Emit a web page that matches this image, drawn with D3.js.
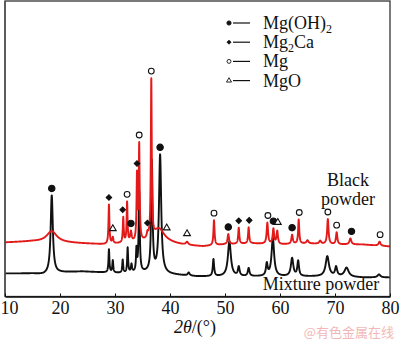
<!DOCTYPE html>
<html><head><meta charset="utf-8">
<script src="https://cdn.jsdelivr.net/npm/d3@7"></script>
<style>body{margin:0;background:#fff}</style>
</head><body>
<svg id="chart" width="400" height="340"></svg>
<script>
// 2θ axis ticks
const ticks2Theta = [10, 20, 30, 40, 50, 60, 70, 80];

// Mixture powder: background [2θ, intensity] and peaks [2θ, height, half width]
const mixtureBackground = [[10,23],[15,23],[17,22],[20,24],[24,25],[28,24],[32,23],[36,24],[40,22],[45,20],[50,20],[60,20],[70,20],[75,19],[80,19]];
const mixturePeaks = [
  [18.5,78,0.24],[28.9,23,0.1],[29.6,12,0.1],[31.4,13,0.1],[32.3,25,0.1],[33.0,8,0.12],
  [33.9,22,0.1],[34.4,80,0.12],[36.7,110,0.15],[38.2,118,0.24],[43.4,3,0.2],
  [47.9,17,0.14],[50.8,35,0.32],[52.5,9,0.18],[54.3,8,0.18],[57.6,12,0.18],[58.7,38,0.28],
  [62.2,18,0.26],[63.3,15,0.18],[68.6,20,0.36],[70.2,9,0.22],[72.1,9,0.45],[78.0,3,0.3]
];

// Black powder: background and peaks
const blackBackground = [[10,54],[15,55],[20,54],[24,53],[28,52],[32,53],[36,54],[40,53],[43,51],[46,50],[50,52],[55,53],[60,52],[65,53],[70,52],[75,52],[80,50]];
const blackPeaks = [
  [18.5,11,1.1],[28.9,39,0.1],[29.6,6,0.12],[31.5,25,0.1],[32.2,40,0.1],[32.9,10,0.15],
  [34.0,65,0.1],[34.4,95,0.1],[35.9,5,0.15],[36.6,158,0.1],[38.0,14,1.2],[43.1,3,0.25],
  [48.0,25,0.12],[50.6,10,0.15],[52.5,16,0.12],[54.3,16,0.12],[57.7,21,0.15],[58.8,15,0.15],
  [59.5,13,0.15],[62.2,9,0.15],[63.4,24,0.12],[65.0,3,0.2],[67.3,3,0.2],[68.7,25,0.15],
  [70.3,12,0.15],[72.8,6,0.2],[78.1,4,0.2]
];

// Phase reflections (2θ)
const phaseNames = ["Mg(OH)2", "Mg2Ca", "Mg", "MgO"];
const mgOH2Peaks = [18.5, 32.9, 38.2, 50.6, 58.8, 62.2, 73.0];
const mg2CaPeaks = [28.9, 31.4, 34.0, 35.9, 52.5, 54.4];
const mgPeaks = [32.2, 34.4, 36.6, 48.0, 57.8, 63.5, 68.7, 70.3, 78.2];
const mgOPeaks = [29.6, 39.4, 43.1, 59.6];

const svg = d3.select("#chart");
const W = 400, H = 340;
const plot = {left: 5, right: 390, top: 1, bottom: 296.5};
const serif = "'Liberation Serif','Times New Roman',serif";
const red = "#e31a1a", ink = "#111";

const x = d3.scaleLinear().domain([10, 80]).range([plot.left, plot.right]);
const y = d3.scaleLinear().domain([0, 295.5]).range([plot.bottom, plot.top]);

function pattern(bg, peaks) {
  const base = d3.scaleLinear().domain(bg.map(d => d[0])).range(bg.map(d => d[1]));
  const pts = [];
  for (let i = 0; i <= 7000; i++) {
    const t = 10 + i * 0.01;
    let v = base(t);
    for (const [c, h, w] of peaks) {
      const u = (t - c) / w;
      v += h / (1 + u * u);
    }
    pts.push([t, v]);
  }
  return pts;
}

const mixture = pattern(mixtureBackground, mixturePeaks);
const black = pattern(blackBackground, blackPeaks);

svg.append("rect").attr("width", W).attr("height", H).attr("fill", "#fff");

svg.append("clipPath").attr("id", "clip").append("rect")
  .attr("x", plot.left).attr("y", plot.top)
  .attr("width", plot.right - plot.left).attr("height", plot.bottom - plot.top);

const line = d3.line().x(d => x(d[0])).y(d => y(d[1]));
const g = svg.append("g").attr("clip-path", "url(#clip)");
g.append("path").datum(mixture).attr("d", line)
  .attr("fill", "none").attr("stroke", ink).attr("stroke-width", 1.9).attr("stroke-linejoin", "round");
g.append("path").datum(black).attr("d", line)
  .attr("fill", "none").attr("stroke", red).attr("stroke-width", 1.9).attr("stroke-linejoin", "round");

// frame
svg.append("rect").attr("x", plot.left).attr("y", plot.top)
  .attr("width", plot.right - plot.left).attr("height", plot.bottom - plot.top)
  .attr("fill", "none").attr("stroke", "#333").attr("stroke-width", 1.3);
svg.append("line").attr("x1", plot.left).attr("x2", plot.left).attr("y1", plot.top).attr("y2", plot.bottom)
  .attr("stroke", "#555").attr("stroke-width", 1.6);

// bottom axis
const axis = svg.append("g").attr("transform", `translate(0,${plot.bottom})`)
  .call(d3.axisBottom(x).tickValues(ticks2Theta).tickSizeInner(-3).tickSizeOuter(0).tickPadding(5));
axis.select(".domain").attr("stroke", ink).attr("stroke-width", 1.5);
axis.selectAll(".tick line").attr("stroke", ink).attr("stroke-width", 1);
axis.selectAll(".tick text").attr("font-family", serif).attr("font-size", 18).attr("fill", ink)
  .attr("dx", d => d === 10 ? 4 : 0);

// axis title
const title = svg.append("text").attr("x", 195).attr("y", 333).attr("text-anchor", "middle")
  .attr("font-family", serif).attr("font-size", 18).attr("fill", ink);
title.append("tspan").attr("font-style", "italic").text("2θ");
title.append("tspan").text("/(°)");

// symbols per phase
const symbols = [
  {type: d3.symbolCircle, fill: ink, size: 32, legendSize: 14, rot: 0},
  {type: d3.symbolSquare, fill: ink, size: 15, legendSize: 8, rot: 45},
  {type: d3.symbolCircle, fill: "#fff", size: 26, legendSize: 12, rot: 0},
  {type: d3.symbolTriangle, fill: "#fff", size: 20, legendSize: 11, rot: 0}
];
const phasePeaks = [mgOH2Peaks, mg2CaPeaks, mgPeaks, mgOPeaks];

function topAt(t) {
  let m = -Infinity;
  for (const series of [mixture, black]) {
    for (const [tt, v] of series) if (Math.abs(tt - t) <= 0.2 && v > m) m = v;
  }
  return y(m);
}

phasePeaks.forEach((list, k) => {
  const s = symbols[k];
  list.forEach(t => {
    const cy = topAt(t) - (k === 3 ? 8 : 7);
    svg.append("path")
      .attr("d", d3.symbol().type(s.type).size(s.size)())
      .attr("transform", `translate(${x(t)},${cy}) rotate(${s.rot})`)
      .attr("fill", s.fill).attr("stroke", ink).attr("stroke-width", 1.1);
  });
});

// legend
const legendParts = [
  [["Mg(OH)", false], ["2", true]],
  [["Mg", false], ["2", true], ["Ca", false]],
  [["Mg", false]],
  [["MgO", false]]
];
legendParts.forEach((parts, k) => {
  const cy = 23 + k * 19.2;
  const s = symbols[k];
  svg.append("path")
    .attr("d", d3.symbol().type(s.type).size(s.legendSize)())
    .attr("transform", `translate(229,${cy}) rotate(${s.rot})`)
    .attr("fill", s.fill).attr("stroke", ink).attr("stroke-width", 0.9);
  svg.append("line").attr("x1", 233).attr("x2", 250).attr("y1", cy).attr("y2", cy)
    .attr("stroke", ink).attr("stroke-width", 1.2);
  const tx = svg.append("text").attr("x", 263).attr("y", cy + 6)
    .attr("font-family", serif).attr("font-size", 18).attr("fill", ink);
  parts.forEach(([txt, sub]) => {
    const sp = tx.append("tspan").text(txt);
    if (sub) sp.attr("font-size", 12).attr("dy", 4);
    else if (tx.selectAll("tspan").size() > 1) sp.attr("dy", -4);
  });
});

// curve labels
const lab = (t, xx, yy, anchor) => svg.append("text").attr("x", xx).attr("y", yy)
  .attr("text-anchor", anchor).attr("font-family", serif).attr("font-size", 18).attr("fill", ink).text(t);
lab("Black", 348, 186, "middle");
lab("powder", 348, 205, "middle");
lab("Mixture powder", 321, 290, "middle");

// site mark
svg.append("text").attr("x", 394).attr("y", 337).attr("text-anchor", "end")
  .attr("font-family", "'Noto Sans CJK SC',sans-serif").attr("font-size", 13)
  .attr("fill", "#f2b8b8").text("@有色金属在线");
</script>
</body></html>
